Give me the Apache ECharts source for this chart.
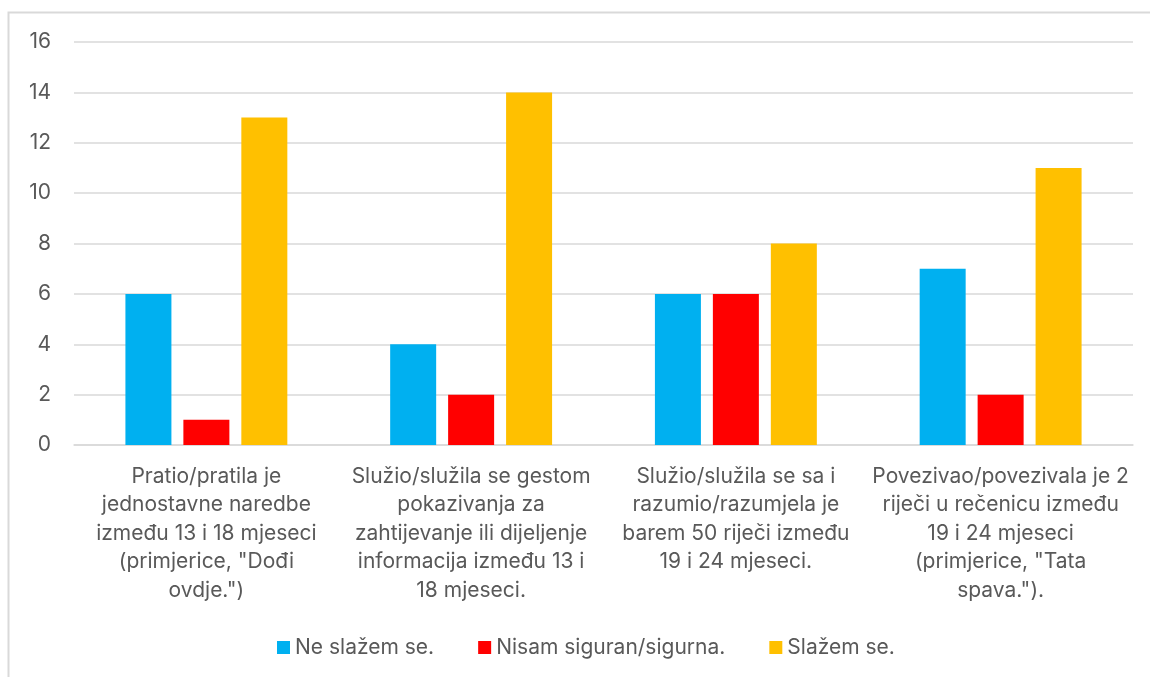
<!DOCTYPE html>
<html>
<head>
<meta charset="utf-8">
<script src="https://cdn.jsdelivr.net/npm/echarts@6/dist/echarts.min.js"></script>
<style>
  html, body { margin: 0; padding: 0; background: #fff; }
  #chart { width: 1150px; height: 677px; }
</style>
</head>
<body>
<div id="chart"></div>
<script>
const categories = [
  'Pratio/pratila je\njednostavne naredbe\nizmeđu 13 i 18 mjeseci\n(primjerice, "Dođi\novdje.")',
  'Služio/služila se gestom\npokazivanja za\nzahtijevanje ili dijeljenje\ninformacija između 13 i\n18 mjeseci.',
  'Služio/služila se sa i\nrazumio/razumjela je\nbarem 50 riječi između\n19 i 24 mjeseci.',
  'Povezivao/povezivala je 2\nriječi u rečenicu između\n19 i 24 mjeseci\n(primjerice, "Tata\nspava.").'
];
const seriesNames = ['Ne slažem se.', 'Nisam siguran/sigurna.', 'Slažem se.'];
const neSlazem = [6, 4, 6, 7];
const nisamSiguran = [1, 2, 6, 2];
const slazem = [13, 14, 8, 11];
const colors = ['#00B0F0', '#FF0000', '#FFC000'];

const textColor = '#595959';
const fontFamily = 'Inter, "Open Sans", sans-serif';

const chart = echarts.init(document.getElementById('chart'));
const option = {
  animation: false,
  textStyle: { fontFamily: fontFamily, color: textColor },
  graphic: [{
    type: 'polyline',
    silent: true,
    shape: { points: [[8.5, 677], [8.5, 12.5], [1150, 12.5]] },
    style: { stroke: '#d9d9d9', lineWidth: 2, fill: null }
  }],
  grid: { left: 74, right: 17, top: 42, bottom: 232 },
  legend: {
    top: 632,
    left: 272,
    itemWidth: 13,
    itemHeight: 13,
    itemGap: 44,
    icon: 'rect',
    textStyle: { fontSize: 21, color: textColor, fontFamily: fontFamily, padding: [0, 0, 0, 0] },
    data: seriesNames
  },
  xAxis: {
    type: 'category',
    data: categories,
    axisTick: { show: false },
    axisLine: { lineStyle: { color: '#d9d9d9', width: 1.5 } },
    axisLabel: {
      interval: 0,
      margin: 17,
      fontSize: 21,
      lineHeight: 28.5,
      color: textColor,
      fontFamily: fontFamily,
      align: 'center'
    }
  },
  yAxis: {
    type: 'value',
    min: 0,
    max: 16,
    interval: 2,
    axisLine: { show: false },
    axisTick: { show: false },
    splitLine: { lineStyle: { color: '#d9d9d9', width: 1.5 } },
    axisLabel: { fontSize: 21, color: textColor, fontFamily: fontFamily, margin: 23 }
  },
  series: [
    { name: seriesNames[0], type: 'bar', data: neSlazem, itemStyle: { color: colors[0] }, barWidth: 46, barGap: '26%' },
    { name: seriesNames[1], type: 'bar', data: nisamSiguran, itemStyle: { color: colors[1] }, barWidth: 46, barGap: '26%' },
    { name: seriesNames[2], type: 'bar', data: slazem, itemStyle: { color: colors[2] }, barWidth: 46, barGap: '26%' }
  ]
};
chart.setOption(option);
</script>
</body>
</html>
